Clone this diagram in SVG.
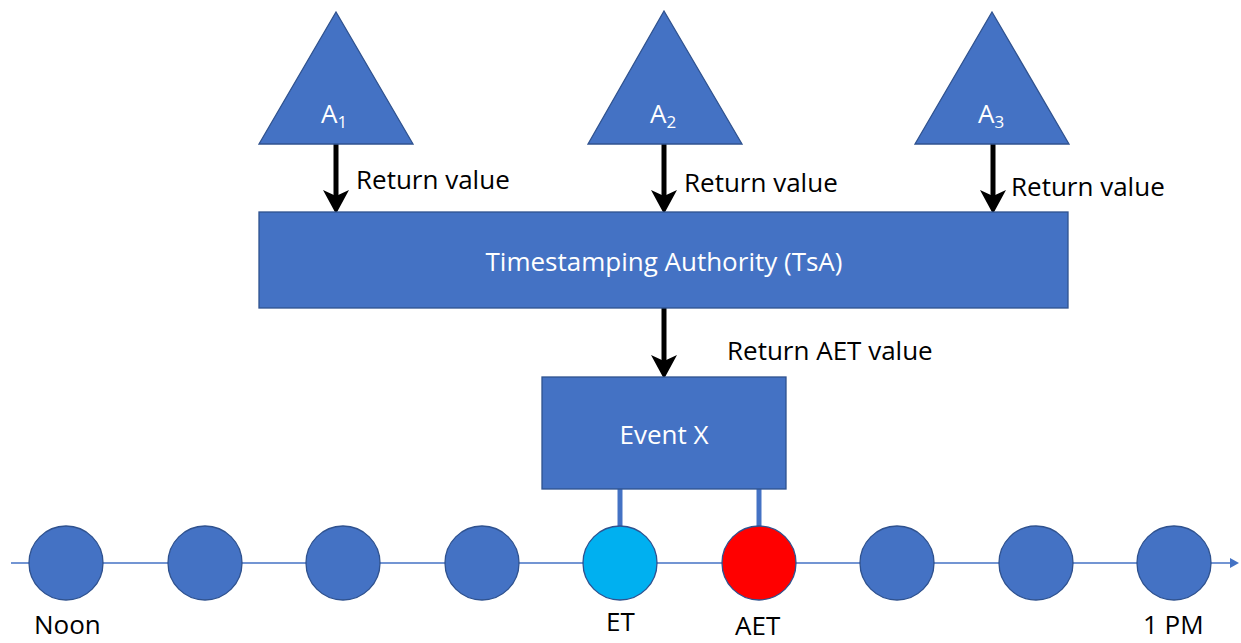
<svg xmlns="http://www.w3.org/2000/svg" width="1241" height="643" viewBox="0 0 1241 643">
  <style>
    .shape { fill: #4472C4; stroke: #2F528F; stroke-width: 1.3; }
    .lbl { font-family: "Open Sans", "Liberation Sans", sans-serif; font-size: 26px; fill: #000; }
    .wlbl { font-family: "Open Sans", "Liberation Sans", sans-serif; font-size: 26px; fill: #fff; }
    .sub { font-size: 17px; }
    .flow { stroke: #000; stroke-width: 5; fill: none; marker-end: url(#head); }
    .tick { stroke: #4472C4; stroke-width: 5; }
    .axis { stroke: #4472C4; stroke-width: 1.6; marker-end: url(#axisHead); }
  </style>
  <defs>
    <marker id="head" markerUnits="userSpaceOnUse" viewBox="0 0 24 26" refX="10" refY="13" markerWidth="24" markerHeight="26" orient="auto">
      <path d="M0,0 L24,13 L0,26 L6,13 Z" fill="#000"/>
    </marker>
    <marker id="axisHead" markerUnits="userSpaceOnUse" viewBox="0 0 9 10" refX="1" refY="5" markerWidth="9" markerHeight="10" orient="auto">
      <path d="M0,0 L9,5 L0,10 Z" fill="#4472C4"/>
    </marker>
  </defs>

  <rect width="1241" height="643" fill="#fff"/>

  <!-- timeline axis -->
  <g id="timeline">
    <line class="axis" x1="11" y1="563" x2="1231" y2="563"/>
  </g>

  <!-- arrows and ticks -->
  <g id="connectors">
    <line class="flow" x1="336" y1="144" x2="336" y2="200"/>
    <line class="flow" x1="664" y1="144" x2="664" y2="200"/>
    <line class="flow" x1="993" y1="144" x2="993" y2="200"/>
    <line class="flow" x1="664" y1="308" x2="664" y2="365"/>
    <line class="tick" x1="620" y1="489" x2="620" y2="527"/>
    <line class="tick" x1="759" y1="489" x2="759" y2="527"/>
  </g>

  <g id="a1">
    <polygon class="shape" points="336,12 413,144 259,144"/>
    <text class="wlbl" x="321" y="123">A<tspan class="sub" dy="5">1</tspan></text>
  </g>
  <g id="a2">
    <polygon class="shape" points="664,11 742,144 588,144"/>
    <text class="wlbl" x="650" y="123">A<tspan class="sub" dy="5">2</tspan></text>
  </g>
  <g id="a3">
    <polygon class="shape" points="992,12 1069,144 915,144"/>
    <text class="wlbl" x="978" y="123">A<tspan class="sub" dy="5">3</tspan></text>
  </g>

  <g id="labels">
    <text class="lbl" x="356" y="189">Return value</text>
    <text class="lbl" x="684" y="192">Return value</text>
    <text class="lbl" x="1011" y="196">Return value</text>
    <text class="lbl" x="727" y="360">Return AET value</text>
  </g>

  <g id="tsa">
    <rect class="shape" x="259" y="212" width="809" height="96"/>
    <text class="wlbl" x="664" y="271" text-anchor="middle">Timestamping Authority (TsA)</text>
  </g>

  <g id="event-x">
    <rect class="shape" x="542" y="377" width="244" height="112"/>
    <text class="wlbl" x="664" y="444" text-anchor="middle">Event X</text>
  </g>

  <g id="t-noon">
    <circle class="shape" cx="66" cy="563" r="37"/>
    <text class="lbl" x="34" y="634">Noon</text>
  </g>
  <g id="t2"><circle class="shape" cx="205" cy="563" r="37"/></g>
  <g id="t3"><circle class="shape" cx="343" cy="563" r="37"/></g>
  <g id="t4"><circle class="shape" cx="482" cy="563" r="37"/></g>
  <g id="t-et">
    <circle class="shape" cx="620" cy="563" r="37" style="fill:#00B0F0"/>
    <text class="lbl" x="606" y="631">ET</text>
  </g>
  <g id="t-aet">
    <circle class="shape" cx="759" cy="563" r="37" style="fill:#FF0000"/>
    <text class="lbl" x="735" y="635">AET</text>
  </g>
  <g id="t7"><circle class="shape" cx="897" cy="563" r="37"/></g>
  <g id="t8"><circle class="shape" cx="1036" cy="563" r="37"/></g>
  <g id="t-1pm">
    <circle class="shape" cx="1174" cy="563" r="37"/>
    <text class="lbl" x="1143" y="634">1 PM</text>
  </g>
</svg>
